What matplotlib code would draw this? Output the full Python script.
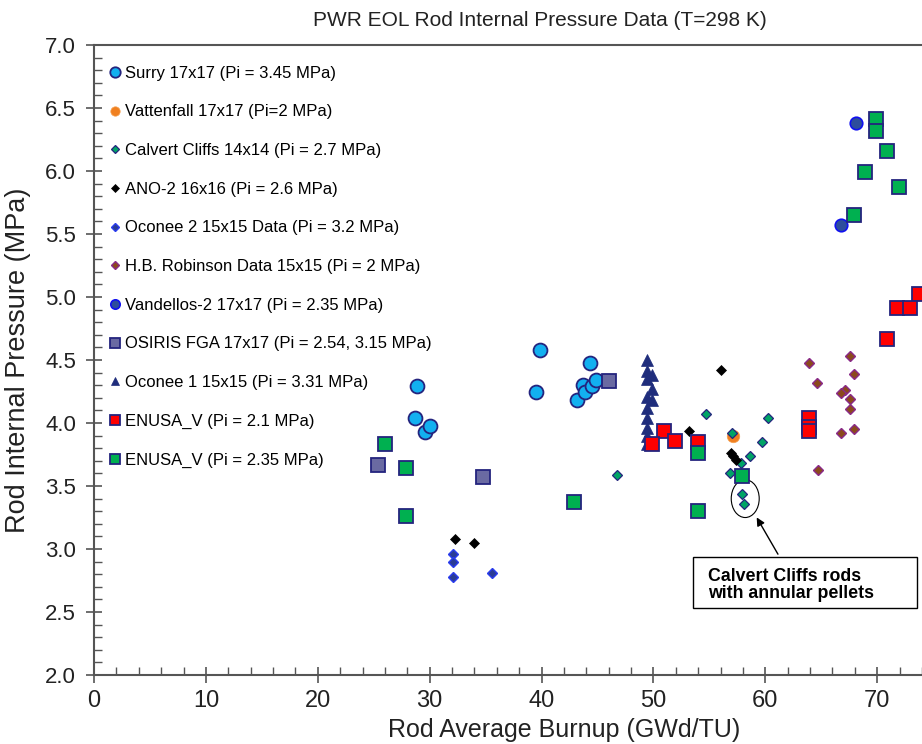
import matplotlib
matplotlib.use('Agg')
import matplotlib.pyplot as plt
from matplotlib import font_manager
from matplotlib.patches import Ellipse, Rectangle
from matplotlib.ticker import MultipleLocator, FormatStrFormatter

names = {f.name for f in font_manager.fontManager.ttflist}
base_font = 'Liberation Sans' if 'Liberation Sans' in names else 'DejaVu Sans'
narrow_font = 'Liberation Sans Narrow' if 'Liberation Sans Narrow' in names else base_font
plt.rcParams['font.family'] = [base_font, 'DejaVu Sans']

###################### Data ######################

surry_x = [28.9, 28.7, 29.6, 30.0, 39.9, 39.5, 44.3, 43.7, 43.2, 43.9, 44.5, 44.9]
surry_y = [4.29, 4.04, 3.93, 3.98, 4.58, 4.25, 4.48, 4.30, 4.18, 4.25, 4.29, 4.34]

vatt_x = [57.1]
vatt_y = [3.90]

calvert_x = [46.7, 54.7, 57.0, 60.2, 59.7, 58.6, 57.8, 56.8, 57.9, 58.1]
calvert_y = [3.59, 4.07, 3.92, 4.04, 3.85, 3.74, 3.68, 3.60, 3.44, 3.36]

ano_x = [32.3, 34.0, 56.0, 53.2, 56.9, 57.1, 57.4]
ano_y = [3.08, 3.05, 4.42, 3.94, 3.76, 3.74, 3.71]

oconee2_x = [32.1, 32.1, 32.1, 35.6]
oconee2_y = [2.96, 2.90, 2.78, 2.81]

hbr_x = [63.9, 67.6, 67.9, 64.6, 67.1, 66.8, 67.6, 67.6, 66.8, 67.9, 64.7]
hbr_y = [4.48, 4.53, 4.39, 4.32, 4.26, 4.24, 4.19, 4.11, 3.92, 3.95, 3.63]

vandellos_x = [68.1, 66.8]
vandellos_y = [6.38, 5.57]

osiris_x = [25.4, 34.8, 46.0]
osiris_y = [3.67, 3.57, 4.33]

oconee1_x = [49.4, 49.4, 49.9, 49.4, 49.9, 49.4, 49.9, 49.4, 49.4, 49.4, 49.4, 49.4]
oconee1_y = [4.50, 4.41, 4.38, 4.35, 4.27, 4.21, 4.18, 4.12, 4.04, 3.96, 3.90, 3.83]

enusa21_x = [50.9, 49.9, 51.9, 54.0, 63.9, 63.9, 63.9, 73.7, 71.8, 72.9, 70.9]
enusa21_y = [3.94, 3.83, 3.86, 3.85, 4.04, 3.97, 3.94, 5.02, 4.91, 4.91, 4.67]

enusa235_x = [26.0, 27.9, 27.9, 42.9, 54.0, 54.0, 57.9, 69.9, 69.9, 70.9, 68.9, 71.9, 67.9]
enusa235_y = [3.83, 3.64, 3.26, 3.37, 3.76, 3.30, 3.58, 6.41, 6.32, 6.16, 5.99, 5.87, 5.65]

labels = ['Surry 17x17 (Pi = 3.45 MPa)',
          'Vattenfall 17x17 (Pi=2 MPa)',
          'Calvert Cliffs 14x14 (Pi = 2.7 MPa)',
          'ANO-2 16x16 (Pi = 2.6 MPa)',
          'Oconee 2 15x15 Data (Pi = 3.2 MPa)',
          'H.B. Robinson Data 15x15 (Pi = 2 MPa)',
          'Vandellos-2 17x17 (Pi = 2.35 MPa)',
          'OSIRIS FGA 17x17 (Pi = 2.54, 3.15 MPa)',
          'Oconee 1 15x15 (Pi = 3.31 MPa)',
          'ENUSA_V (Pi = 2.1 MPa)',
          'ENUSA_V (Pi = 2.35 MPa)']

###################### Plot ######################

navy = '#24247e'
series = [
    (surry_x, surry_y, dict(marker='o', ms=10, mfc='#12b0f0', mec=navy, mew=1.3)),
    (vatt_x, vatt_y, dict(marker='o', ms=9, mfc='#f08020', mec='#f5a050', mew=0.5)),
    (calvert_x, calvert_y, dict(marker='D', ms=5, mfc='#00a466', mec=navy, mew=0.9)),
    (ano_x, ano_y, dict(marker='D', ms=5.5, mfc='black', mec='black', mew=0.5)),
    (oconee2_x, oconee2_y, dict(marker='D', ms=5, mfc='#2a3c96', mec='#2a3cf0', mew=1.0)),
    (hbr_x, hbr_y, dict(marker='D', ms=5.5, mfc='#8b4a1c', mec='#8a2a8a', mew=1.0)),
    (vandellos_x, vandellos_y, dict(marker='o', ms=9, mfc='#2d4d9c', mec='#1010f0', mew=1.2)),
    (osiris_x, osiris_y, dict(marker='s', ms=10, mfc='#6a6aa2', mec=navy, mew=1.3)),
    (oconee1_x, oconee1_y, dict(marker='^', ms=8, mfc='#1f2d7c', mec='#1f2d7c', mew=0.5)),
    (enusa21_x, enusa21_y, dict(marker='s', ms=10, mfc='#ff0000', mec=navy, mew=1.3)),
    (enusa235_x, enusa235_y, dict(marker='s', ms=10, mfc='#00b050', mec=navy, mew=1.3)),
]

fig = plt.figure(figsize=(9.22, 7.44), dpi=100, facecolor='white')
ax = fig.add_axes([0.102, 0.0927, 0.898, 0.8468])

for (x, y, style), lab in zip(series, labels):
    ax.plot(x, y, linestyle='none', label=lab, **style)

ax.set_xlim(0, 74)
ax.set_ylim(2.0, 7.0)
ax.xaxis.set_major_locator(MultipleLocator(10))
ax.xaxis.set_minor_locator(MultipleLocator(2))
ax.yaxis.set_major_locator(MultipleLocator(0.5))
ax.yaxis.set_minor_locator(MultipleLocator(0.1))
ax.yaxis.set_major_formatter(FormatStrFormatter('%.1f'))

spine_col = '#555555'
ax.spines['right'].set_visible(False)
for s in ['top', 'left', 'bottom']:
    ax.spines[s].set_color(spine_col)
    ax.spines[s].set_linewidth(1.5)
ax.tick_params(which='major', direction='inout', length=12, width=1.2, color=spine_col)
ax.tick_params(which='minor', direction='in', length=6, width=1.0, color=spine_col)
ax.tick_params(axis='y', which='major', labelsize=16, pad=7, labelcolor='#222222')
ax.tick_params(axis='x', which='major', labelsize=17, pad=5, labelcolor='#222222')
for t in ax.get_xticklabels():
    t.set_fontfamily(narrow_font)

ax.set_xlabel('Rod Average Burnup (GWd/TU)', fontsize=18, family=narrow_font, color='#222222')
ax.xaxis.set_label_coords(0.568, -0.068)
ax.set_ylabel('Rod Internal Pressure (MPa)', fontsize=19.5, color='#222222')
ax.yaxis.set_label_coords(-0.076, 0.5)

fig.text(0.586, 0.973, 'PWR EOL Rod Internal Pressure Data (T=298 K)', ha='center', va='center',
         fontsize=15, color='#222222')

leg = ax.legend(loc='upper left', bbox_to_anchor=(0.017, 0.967), frameon=False, fontsize=12,
                labelspacing=1.42, handlelength=0.8, handletextpad=0.2, borderpad=0,
                borderaxespad=0, numpoints=1, markerscale=0.75)

# annotation
ax.add_patch(Ellipse((58.2, 3.40), 2.5, 0.30, fill=False, edgecolor='black', linewidth=0.8))
ax.add_patch(Rectangle((53.57, 2.53), 20.0, 0.41, fill=True, facecolor='white',
                       edgecolor='black', linewidth=1.0, clip_on=False))
ax.text(54.9, 2.715, 'Calvert Cliffs rods\nwith annular pellets', ha='left', va='center',
        fontsize=12.8, fontweight='bold', linespacing=0.95)
ax.annotate('', xy=(59.1, 3.27), xytext=(61.25, 2.94),
            arrowprops=dict(arrowstyle='-|>', color='black', lw=1.0, mutation_scale=12))

fig.savefig('out.png', dpi=100, facecolor='white')
